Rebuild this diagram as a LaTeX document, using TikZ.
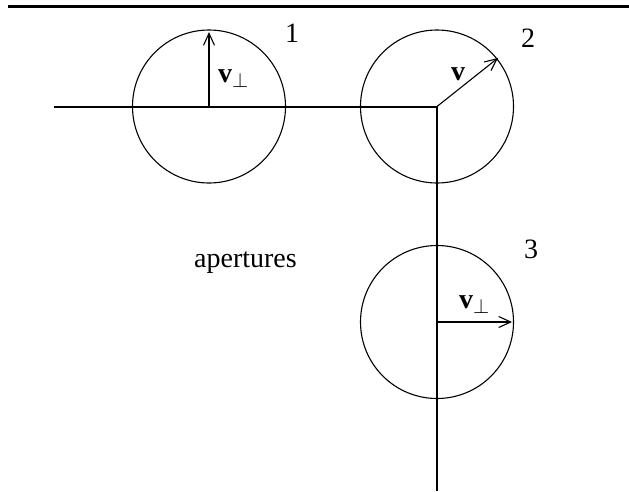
\documentclass[tikz,border=0pt]{standalone}
\usepackage{fontspec}
\setmainfont{Liberation Serif}
\usetikzlibrary{arrows.meta}
\begin{document}
\begin{tikzpicture}[x=1pt,y=-1pt,
  wall/.style={line width=2pt},
  aperture/.style={draw,circle,line width=1.1pt,minimum size=153pt,inner sep=0pt},
  vec/.style={line width=1.1pt,-{Straight Barb[length=12pt,width=11pt,line width=1.1pt]}},
  lab/.style={inner sep=0pt,anchor=base west,font=\fontsize{28}{30}\selectfont},
  num/.style={inner sep=0pt,anchor=base west,font=\fontsize{28}{30}\selectfont}]
\useasboundingbox (0,0) rectangle (629,491);
% top rule
\coordinate (rl) at (8,6.5);
\coordinate (rr) at (629,6.5);
\draw[line width=3pt] (rl) -- (rr);
% walls
\coordinate (wl) at (54,106.5);
\coordinate (corner) at (437,106.5);
\coordinate (wb) at (437,491);
\draw[wall] (wl) -- (corner) -- (wb);
% apertures
\node[aperture] (c1) at (209,106.5) {};
\node[aperture] (c2) at (437,106.5) {};
\node[aperture] (c3) at (437,322) {};
% vectors
\coordinate (t1) at (209,32);
\coordinate (t2) at (498,58);
\coordinate (t3) at (512,322);
\draw[vec] (c1.center) -- (t1);
\draw[vec] (c2.center) -- (t2);
\draw[vec] (c3.center) -- (t3);
% labels
\node[lab] (l1) at (218,82) {\textbf{v}$_{\perp}$};
\node[lab] (l2) at (451,80) {\textbf{v}};
\node[lab] (l3) at (459,308) {\textbf{v}$_{\perp}$};
\node[num] (n1) at (285,42) {1};
\node[num] (n2) at (521,47) {2};
\node[num] (n3) at (524,258) {3};
\node[lab] (ap) at (194,267) {apertures};
\end{tikzpicture}
\end{document}
